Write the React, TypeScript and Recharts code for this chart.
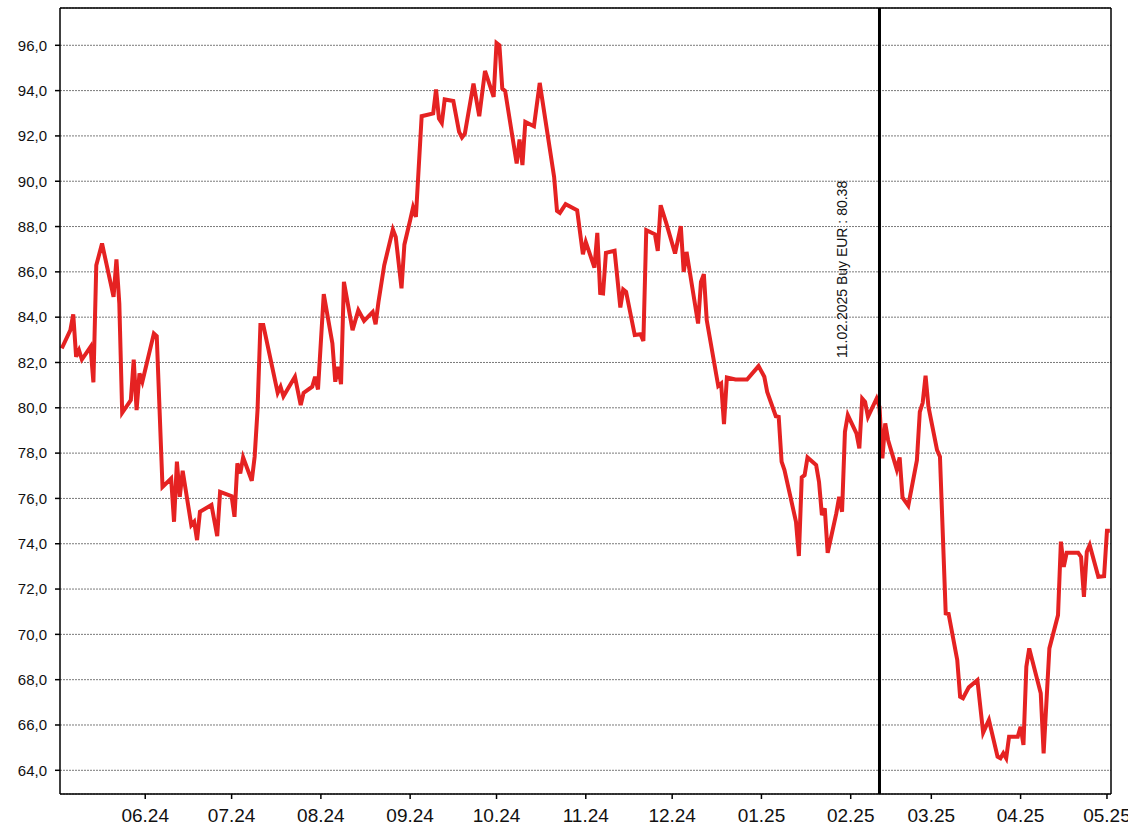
import React from "react";
import { LineChart, Line, XAxis, YAxis, CartesianGrid, ReferenceLine } from "recharts";

const dates: string[] = [
  "2024-05-03","2024-05-06","2024-05-07","2024-05-08","2024-05-09","2024-05-10","2024-05-13","2024-05-14","2024-05-15","2024-05-17",
  "2024-05-20","2024-05-21","2024-05-22","2024-05-23","2024-05-24","2024-05-27","2024-05-28","2024-05-29","2024-05-30","2024-05-31",
  "2024-06-04","2024-06-05","2024-06-07","2024-06-10","2024-06-11","2024-06-12","2024-06-13","2024-06-14","2024-06-17","2024-06-18",
  "2024-06-19","2024-06-20","2024-06-24","2024-06-26","2024-06-27","2024-07-01","2024-07-02","2024-07-03","2024-07-04","2024-07-05",
  "2024-07-08","2024-07-09","2024-07-10","2024-07-11","2024-07-12","2024-07-17","2024-07-18","2024-07-19","2024-07-23","2024-07-25",
  "2024-07-26","2024-07-29","2024-07-30","2024-07-31","2024-08-02","2024-08-05","2024-08-06","2024-08-07","2024-08-08","2024-08-09",
  "2024-08-12","2024-08-14","2024-08-16","2024-08-19","2024-08-20","2024-08-21","2024-08-23","2024-08-26","2024-08-27","2024-08-29",
  "2024-08-30","2024-09-01","2024-09-02","2024-09-03","2024-09-05","2024-09-09","2024-09-10","2024-09-11","2024-09-12","2024-09-13",
  "2024-09-16","2024-09-18","2024-09-19","2024-09-20","2024-09-23","2024-09-25","2024-09-27","2024-09-30","2024-10-01","2024-10-02",
  "2024-10-03","2024-10-04","2024-10-08","2024-10-09","2024-10-10","2024-10-11","2024-10-14","2024-10-16","2024-10-21","2024-10-22",
  "2024-10-23","2024-10-25","2024-10-29","2024-10-31","2024-11-01","2024-11-04","2024-11-05","2024-11-06","2024-11-07","2024-11-08",
  "2024-11-11","2024-11-13","2024-11-14","2024-11-15","2024-11-18","2024-11-20","2024-11-21","2024-11-22","2024-11-25","2024-11-26",
  "2024-11-27","2024-11-29","2024-12-02","2024-12-04","2024-12-05","2024-12-06","2024-12-10","2024-12-11","2024-12-12","2024-12-13",
  "2024-12-17","2024-12-18","2024-12-19","2024-12-20","2024-12-23","2024-12-27","2024-12-31","2025-01-02","2025-01-03","2025-01-06",
  "2025-01-07","2025-01-08","2025-01-09","2025-01-13","2025-01-14","2025-01-15","2025-01-16","2025-01-17","2025-01-20","2025-01-21",
  "2025-01-22","2025-01-23","2025-01-24","2025-01-27","2025-01-28","2025-01-29","2025-01-30","2025-01-31","2025-02-03","2025-02-04",
  "2025-02-05","2025-02-06","2025-02-07","2025-02-10","2025-02-11","2025-02-12","2025-02-13","2025-02-14","2025-02-17","2025-02-18",
  "2025-02-19","2025-02-21","2025-02-24","2025-02-25","2025-02-26","2025-02-27","2025-02-28","2025-03-03","2025-03-04","2025-03-06",
  "2025-03-07","2025-03-10","2025-03-11","2025-03-12","2025-03-14","2025-03-17","2025-03-19","2025-03-21","2025-03-24","2025-03-25",
  "2025-03-26","2025-03-27","2025-03-28","2025-03-31","2025-04-01","2025-04-02","2025-04-03","2025-04-04","2025-04-08","2025-04-09",
  "2025-04-11","2025-04-14","2025-04-15","2025-04-16","2025-04-17","2025-04-21","2025-04-22","2025-04-23","2025-04-24","2025-04-25",
  "2025-04-28","2025-04-30","2025-05-01","2025-05-02"
];

const prices: number[] = [
  82.62,83.43,84.12,82.25,82.54,82.13,82.69,81.12,86.29,87.25,
  85.49,84.90,86.55,84.60,79.78,80.34,82.13,79.90,81.52,81.15,
  83.28,83.16,76.51,76.88,74.97,77.62,76.07,77.22,74.82,74.97,
  74.16,75.41,75.71,74.34,76.29,76.10,75.19,77.55,77.10,77.81,
  76.78,77.84,79.90,83.65,83.65,80.66,80.93,80.51,81.37,80.12,
  80.66,80.93,81.37,80.81,85.02,82.84,81.15,81.81,81.04,85.56,
  83.43,84.31,83.84,84.23,83.69,84.67,86.29,87.87,87.54,85.27,
  87.20,88.28,88.84,88.43,92.87,92.99,94.05,92.77,92.57,93.61,
  93.54,92.18,91.93,92.10,94.31,92.87,94.87,93.72,96.10,96.00,
  94.09,93.98,90.78,91.84,90.71,92.62,92.43,94.34,90.19,88.69,
  88.60,88.99,88.72,86.78,87.32,86.19,87.72,85.07,85.05,86.84,
  86.93,84.43,85.22,85.12,83.21,83.25,82.95,87.84,87.66,86.93,
  88.94,88.13,86.81,88.02,86.00,86.88,83.72,85.56,85.90,83.87,
  80.96,81.07,79.28,81.34,81.25,81.25,81.84,81.37,80.70,79.63,
  79.60,77.62,77.25,74.97,73.46,76.93,77.03,77.81,77.47,76.73,
  75.26,75.56,73.60,75.34,76.07,75.41,78.94,79.68,78.87,78.21,
  80.41,80.26,79.60,80.41,80.04,77.77,79.31,78.57,77.28,77.81,
  76.04,75.68,77.69,79.82,80.22,81.42,80.05,78.13,77.84,70.93,
  70.90,68.87,67.25,67.18,67.66,67.98,65.66,66.22,64.60,64.53,
  64.75,64.53,65.48,65.48,65.92,65.12,68.57,69.38,67.40,64.75,
  69.38,70.85,74.09,72.98,73.60,73.60,73.42,71.66,73.65,73.94,
  72.54,72.57,74.57,74.57
];

const monthTicks: string[] = [
  "2024-06-01","2024-07-01","2024-08-01","2024-09-01","2024-10-01","2024-11-01",
  "2024-12-01","2025-01-01","2025-02-01","2025-03-01","2025-04-01","2025-05-01"
];
const monthLabels: string[] = ["06.24","07.24","08.24","09.24","10.24","11.24","12.24","01.25","02.25","03.25","04.25","05.25"];

const yTicks: number[] = [64, 66, 68, 70, 72, 74, 76, 78, 80, 82, 84, 86, 88, 90, 92, 94, 96];

const buyDate = "2025-02-11";
const buyLabel = "11.02.2025 Buy EUR : 80.38";

const xStart = "2024-05-02";
const xEnd = "2025-05-02";

const BASE = Date.UTC(2024, 5, 1);
function toDay(s: string): number {
  const [y, m, d] = s.split("-").map(Number);
  return (Date.UTC(y, m - 1, d) - BASE) / 86400000;
}

const data = dates.map((d, i) => ({ day: toDay(d), price: prices[i] }));
const tickDays = monthTicks.map(toDay);
const xDomain: [number, number] = [toDay(xStart) + 0.4, toDay(xEnd) + 0.4];
const yDomain: [number, number] = [62.954, 97.646];

const FONT = "'Liberation Sans', Arial, sans-serif";

function fmtX(v: number): string {
  const idx = tickDays.findIndex((t) => Math.abs(t - v) < 0.01);
  return idx >= 0 ? monthLabels[idx] : "";
}

function fmtY(v: number): string {
  return v.toFixed(1).replace(".", ",");
}

const BuyLabel = (props: any) => {
  const vb = props && props.viewBox ? props.viewBox : { x: 0, y: 0 };
  const x = vb.x - 32;
  const y = vb.y + 350;
  return (
    <text
      x={x}
      y={y}
      transform={`rotate(-90 ${x} ${y})`}
      fill="#111"
      fontSize={14}
      fontFamily={FONT}
      textAnchor="start"
    >
      {buyLabel}
    </text>
  );
};

export default function App() {
  return (
    <div style={{ position: "absolute", left: 0, top: 0, width: 1128, height: 836, background: "#fff" }}>
      <LineChart width={1128} height={836} data={data} margin={{ top: 8, right: 17, bottom: 0, left: 0 }}>
        <CartesianGrid vertical={false} stroke="#7a7a7a" strokeDasharray="2 1" />
        <XAxis
          dataKey="day"
          type="number"
          domain={xDomain}
          allowDataOverflow
          ticks={tickDays}
          tickFormatter={fmtX}
          height={42}
          tickSize={5}
          tickMargin={10}
          axisLine={{ stroke: "#000", strokeWidth: 1.5 }}
          tickLine={{ stroke: "#000", strokeWidth: 1.5 }}
          tick={{ fill: "#111", fontSize: 19, fontFamily: FONT }}
          interval={0}
        />
        <YAxis
          type="number"
          domain={yDomain}
          allowDataOverflow
          ticks={yTicks}
          tickFormatter={fmtY}
          width={60}
          tickSize={5}
          tickMargin={8}
          axisLine={{ stroke: "#000", strokeWidth: 1.5 }}
          tickLine={{ stroke: "#000", strokeWidth: 1.5 }}
          tick={{ fill: "#111", fontSize: 15, fontFamily: FONT }}
          interval={0}
        />
        <ReferenceLine y={yDomain[1]} stroke="#000" strokeWidth={1.5} />
        <ReferenceLine x={xDomain[1]} stroke="#000" strokeWidth={1.5} />
        <Line
          type="linear"
          dataKey="price"
          stroke="#e52222"
          strokeWidth={4}
          dot={false}
          activeDot={false}
          isAnimationActive={false}
        />
        <ReferenceLine x={toDay(buyDate)} stroke="#000" strokeWidth={3} label={<BuyLabel />} />
      </LineChart>
    </div>
  );
}
